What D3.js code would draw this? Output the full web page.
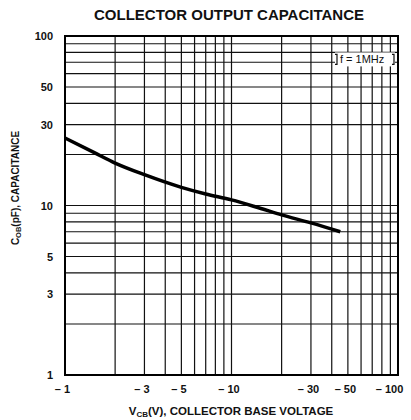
<!DOCTYPE html>
<html>
<head>
<meta charset="utf-8">
<script src="https://cdn.jsdelivr.net/npm/d3@7"></script>
<style>
  body { margin: 0; background: #fff; }
  svg { font-family: "Liberation Sans", Arial, sans-serif; }
</style>
</head>
<body>
<svg id="chart"></svg>
<script>
// values
const voltage = [1, 1.5, 2, 3, 5, 7, 10, 15, 20, 30, 45];
const capacitance = [25, 20.5, 17.8, 15.2, 12.8, 11.7, 10.8, 9.6, 8.8, 7.9, 7.0];

const xTickValues = [1, 3, 5, 10, 30, 50, 100];
const yTickValues = [1, 3, 5, 10, 30, 50, 100];
const gridValues = [1, 2, 3, 4, 5, 6, 7, 8, 9, 10, 20, 30, 40, 50, 60, 70, 80, 90, 100];

const width = 411, height = 420;
const margin = { top: 36, right: 13, bottom: 45, left: 65 };
const innerW = width - margin.left - margin.right;
const innerH = height - margin.top - margin.bottom;

const svg = d3.select("#chart").attr("width", width).attr("height", height);

const x = d3.scaleLog().domain([1, 100]).range([0, innerW]);
const y = d3.scaleLog().domain([1, 100]).range([innerH, 0]);

const g = svg.append("g")
  .attr("transform", `translate(${margin.left},${margin.top})`);

// grid
g.selectAll(".vgrid").data(gridValues).enter().append("line")
  .attr("class", "vgrid")
  .attr("x1", d => x(d)).attr("x2", d => x(d))
  .attr("y1", 0).attr("y2", innerH)
  .attr("stroke", "#111").attr("stroke-width", 1.2);

g.selectAll(".hgrid").data(gridValues).enter().append("line")
  .attr("class", "hgrid")
  .attr("y1", d => y(d)).attr("y2", d => y(d))
  .attr("x1", 0).attr("x2", innerW)
  .attr("stroke", "#111").attr("stroke-width", 1.2);

// frame
g.append("rect")
  .attr("width", innerW).attr("height", innerH)
  .attr("fill", "none").attr("stroke", "#000").attr("stroke-width", 2);

// axes (labels only)
const xAxis = d3.axisBottom(x)
  .tickValues(xTickValues)
  .tickSize(0).tickPadding(10)
  .tickFormat(d => "\u2013 " + d);
const yAxis = d3.axisLeft(y)
  .tickValues(yTickValues)
  .tickSize(0).tickPadding(12)
  .tickFormat(d => d);

const xAxisG = g.append("g").attr("transform", `translate(0,${innerH})`).call(xAxis);
const yAxisG = g.append("g").call(yAxis);
[xAxisG, yAxisG].forEach(a => {
  a.select(".domain").remove();
  a.selectAll("text")
    .attr("font-size", "11px")
    .attr("font-weight", "bold")
    .attr("fill", "#111")
    .style("font-family", "'Liberation Sans', Arial, sans-serif");
});
xAxisG.selectAll("text").attr("dx", d => d === 100 ? "-9" : "-3");

// curve
const pts = voltage.map((v, i) => ({ v: v, c: capacitance[i] }));
const line = d3.line()
  .x(d => x(d.v))
  .y(d => y(d.c))
  .curve(d3.curveMonotoneX);

g.append("path")
  .attr("d", line(pts))
  .attr("fill", "none")
  .attr("stroke", "#000")
  .attr("stroke-width", 3.5)
  .attr("stroke-linecap", "butt");

// f = 1MHz note
const note = g.append("g").attr("transform", `translate(${innerW - 63},${y(80)})`);
note.append("rect")
  .attr("x", 0).attr("y", 0).attr("width", 60).attr("height", 14)
  .attr("fill", "#fff");
note.append("text")
  .attr("x", 5).attr("y", 11)
  .attr("font-size", "11px")
  .attr("fill", "#111")
  .text("f = 1MHz");
note.append("path")
  .attr("d", "M0,2 h2 v10 h-2 M57,2 h2 v10 h-2")
  .attr("fill", "none").attr("stroke", "#111").attr("stroke-width", 1.2);

// title
svg.append("text")
  .attr("x", 229).attr("y", 20)
  .attr("text-anchor", "middle")
  .attr("font-size", "15px")
  .attr("font-weight", "bold")
  .attr("fill", "#111")
  .text("COLLECTOR OUTPUT CAPACITANCE");

// x label
const xl = svg.append("text")
  .attr("x", 231).attr("y", 415)
  .attr("text-anchor", "middle")
  .attr("font-size", "11.5px")
  .attr("font-weight", "bold")
  .attr("fill", "#111");
xl.append("tspan").text("V");
xl.append("tspan").attr("font-size", "8px").attr("dy", 2).text("CB");
xl.append("tspan").attr("dy", -2).text("(V), COLLECTOR BASE VOLTAGE");

// y label
const yl = svg.append("text")
  .attr("transform", "translate(19,188) rotate(-90)")
  .attr("text-anchor", "middle")
  .attr("font-size", "10px")
  .attr("font-weight", "bold")
  .attr("fill", "#111");
yl.append("tspan").text("C");
yl.append("tspan").attr("font-size", "7.5px").attr("dy", 2).text("OB");
yl.append("tspan").attr("dy", -2).text("(pF), CAPACITANCE");
</script>
</body>
</html>
